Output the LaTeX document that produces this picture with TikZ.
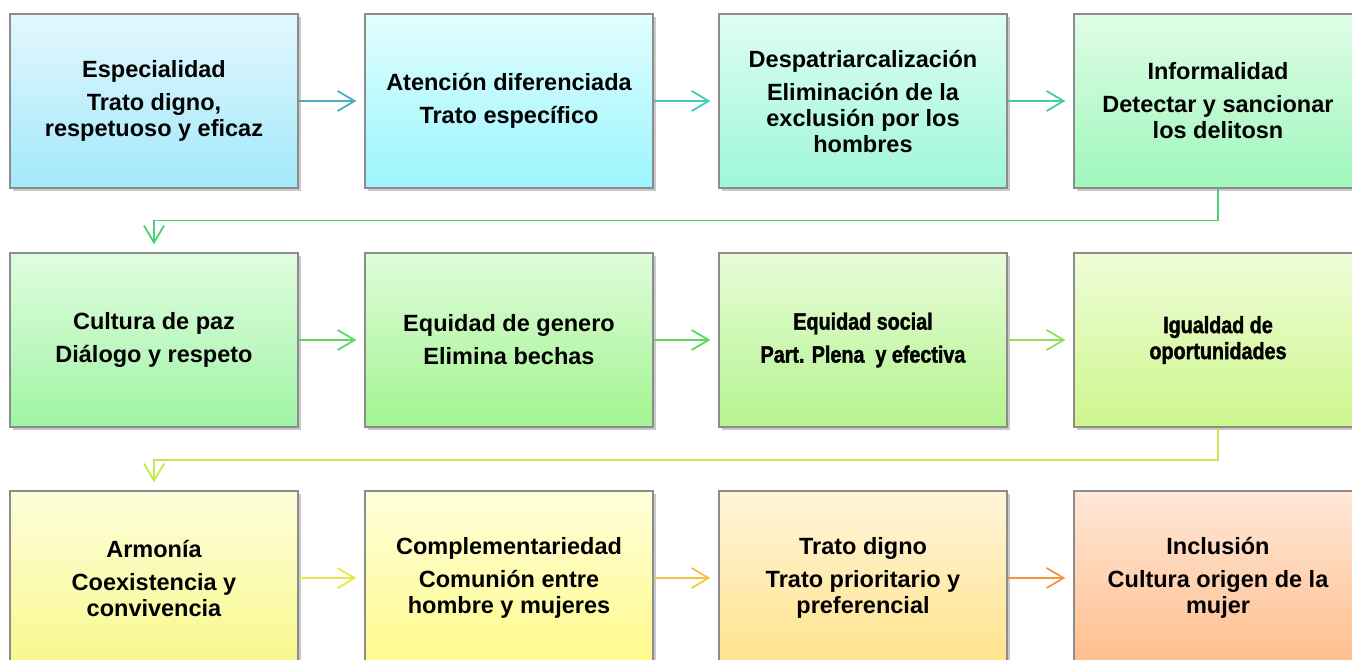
\documentclass[tikz,border=0pt]{standalone}
\usepackage{fontspec}
\setmainfont{Liberation Sans}
\newfontfamily\narrowfont{Liberation Sans}[FakeStretch=0.84,BoldFeatures={FakeBold=1.6}]
\usetikzlibrary{positioning,arrows.meta,shadows}

\definecolor{tA}{HTML}{E3F7FE}\definecolor{bA}{HTML}{A2E8FB}
\definecolor{tB}{HTML}{E0FEFF}\definecolor{bB}{HTML}{9CF5FC}
\definecolor{tC}{HTML}{DEFEF4}\definecolor{bC}{HTML}{9EF6DA}
\definecolor{tD}{HTML}{DFFDE6}\definecolor{bD}{HTML}{A0F6BC}
\definecolor{tE}{HTML}{E0FCE0}\definecolor{bE}{HTML}{A0F4A4}
\definecolor{tF}{HTML}{DFFCDA}\definecolor{bF}{HTML}{A2F490}
\definecolor{tG}{HTML}{E7FCD9}\definecolor{bG}{HTML}{B4F48E}
\definecolor{tH}{HTML}{EFFDD8}\definecolor{bH}{HTML}{CDF68C}
\definecolor{tI}{HTML}{FDFEDB}\definecolor{bI}{HTML}{F8F88C}
\definecolor{tJ}{HTML}{FFFEDA}\definecolor{bJ}{HTML}{FFFA8A}
\definecolor{tK}{HTML}{FFF5DA}\definecolor{bK}{HTML}{FFE38C}
\definecolor{tL}{HTML}{FFE7D8}\definecolor{bL}{HTML}{FFBE8C}
\definecolor{aA}{HTML}{4BACC6}\definecolor{aB}{HTML}{46C8BC}
\definecolor{aC}{HTML}{46CC9C}\definecolor{aD}{HTML}{4DD07A}
\definecolor{aE}{HTML}{5DD95D}\definecolor{aF}{HTML}{8EE05A}
\definecolor{aG}{HTML}{C6E84E}\definecolor{aH}{HTML}{E6E84A}
\definecolor{aI}{HTML}{F5C242}\definecolor{aJ}{HTML}{F39443}

\tikzset{
  box/.style={draw=black!45,line width=1.2pt,minimum width=288pt,minimum height=174pt,
    inner sep=0pt,align=center,font=\fontsize{23.5}{26}\selectfont\bfseries,
    drop shadow={shadow xshift=3pt,shadow yshift=-3pt,opacity=.3,fill=black!70}},
  arr/.style={line width=1.8pt,-{Straight Barb[length=17pt,width=20pt,line width=1.8pt]},shorten >=8pt}
}

\begin{document}
\begin{tikzpicture}[x=1pt,y=-1pt]
\clip (0,0) rectangle (1352,660);
% first row
\node[box,top color=tA,bottom color=bA] (esp) at (154,101)
  {Especialidad\\[7pt]Trato digno,\\respetuoso y eficaz};
\node[box,top color=tB,bottom color=bB] (aten) at (509,101)
  {Atención diferenciada\\[7pt]Trato específico};
\node[box,top color=tC,bottom color=bC] (desp) at (863,101)
  {Despatriarcalización\\[7pt]Eliminación de la\\exclusión por los\\hombres};
\node[box,top color=tD,bottom color=bD] (inf) at (1218,101)
  {Informalidad\\[7pt]Detectar y sancionar\\los delitosn};
% second row
\node[box,top color=tE,bottom color=bE] (cul) at (154,340)
  {Cultura de paz\\[7pt]Diálogo y respeto};
\node[box,top color=tF,bottom color=bF] (gen) at (509,340)
  {Equidad de genero\\[7pt]Elimina bechas};
\node[box,top color=tG,bottom color=bG] (soc) at (863,340)
  {\narrowfont Equidad social\\[7pt]\narrowfont Part. Plena\ \ y efectiva};
\node[box,top color=tH,bottom color=bH] (igu) at (1218,340)
  {\narrowfont Igualdad de\\\narrowfont oportunidades};
% third row
\node[box,top color=tI,bottom color=bI] (arm) at (154,578)
  {Armonía\\[7pt]Coexistencia y\\convivencia};
\node[box,top color=tJ,bottom color=bJ] (comp) at (509,578)
  {Complementariedad\\[7pt]Comunión entre\\hombre y mujeres};
\node[box,top color=tK,bottom color=bK] (trato) at (863,578)
  {Trato digno\\[7pt]Trato prioritario y\\preferencial};
\node[box,top color=tL,bottom color=bL] (incl) at (1218,578)
  {Inclusión\\[7pt]Cultura origen de la\\mujer};
% connectors
\draw[arr,aA] (esp.east) -- (aten.west);
\draw[arr,aB] (aten.east) -- (desp.west);
\draw[arr,aC] (desp.east) -- (inf.west);
\draw[arr,aD] (inf.south) -- ++(0,32) -| (cul.north);
\draw[arr,aE] (cul.east) -- (gen.west);
\draw[arr,aE] (gen.east) -- (soc.west);
\draw[arr,aF] (soc.east) -- (igu.west);
\draw[arr,aG] (igu.south) -- ++(0,32) -| (arm.north);
\draw[arr,aH] (arm.east) -- (comp.west);
\draw[arr,aI] (comp.east) -- (trato.west);
\draw[arr,aJ] (trato.east) -- (incl.west);
\end{tikzpicture}
\end{document}
